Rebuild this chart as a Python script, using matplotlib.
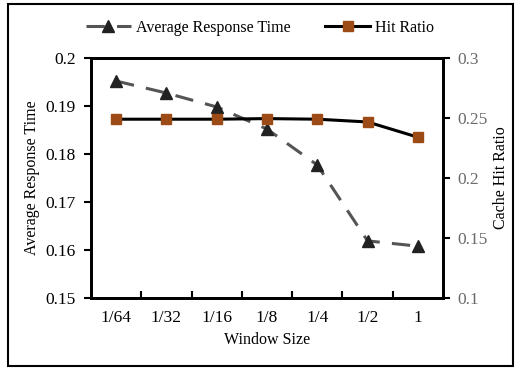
import numpy as np
import matplotlib.pyplot as plt
from matplotlib.patches import Rectangle

plt.rcParams['font.family'] = ['Liberation Serif', 'DejaVu Serif']

window = ['1/64', '1/32', '1/16', '1/8', '1/4', '1/2', '1']
resp_time = [0.1952, 0.1927, 0.1898, 0.1852, 0.1777, 0.1619, 0.1608]
hit_ratio = [0.249, 0.249, 0.249, 0.2495, 0.249, 0.2467, 0.234]

fig = plt.figure(figsize=(5.2, 3.69), dpi=100)
ax1 = fig.add_axes([91/520, 1 - 298/369, 352/520, 240/369])
ax2 = ax1.twinx()

x = np.arange(len(window))
l1, = ax1.plot(x, resp_time, color='#555555', lw=2.2, dashes=(6, 4),
               marker='^', ms=8, mfc='#222222', mec='#222222',
               label='Average Response Time')
l2, = ax2.plot(x, hit_ratio, color='black', lw=2.2,
               marker='s', ms=7, mfc='#9C4A16', mec='#9C4A16',
               label='Hit Ratio')

ax1.set_xlim(-0.5, len(window) - 0.5)
ax1.set_ylim(0.15, 0.2)
ax1.set_yticks([0.15, 0.16, 0.17, 0.18, 0.19, 0.2])
ax1.set_yticklabels(['0.15', '0.16', '0.17', '0.18', '0.19', '0.2'])
ax2.set_ylim(0.1, 0.3)
ax2.set_yticks([0.1, 0.15, 0.2, 0.25, 0.3])
ax2.set_yticklabels(['0.1', '0.15', '0.2', '0.25', '0.3'], color='#6b6b6b')

ax1.set_xticks(x)
ax1.set_xticklabels(window)
ax1.tick_params(axis='x', length=0, labelsize=12.5, pad=9)
ax1.set_xticks(np.arange(0.5, len(window) - 1), minor=True)
ax1.tick_params(axis='x', which='minor', direction='in', length=5, width=1.5)
ax1.tick_params(axis='y', direction='out', length=5, width=1.5, labelsize=12.5,
                pad=6)
ax2.tick_params(axis='y', direction='out', length=5, width=1.5, labelsize=12.5,
                pad=5)

for ax in (ax1, ax2):
    for s in ax.spines.values():
        s.set_linewidth(2)

ax1.set_xlabel('Window Size', fontsize=11.5, labelpad=4)
ax1.set_ylabel('Average Response Time', fontsize=11.5, labelpad=4)
ax2.set_ylabel('Cache Hit Ratio', fontsize=11.5, labelpad=4)

fig.legend(handles=[l1, l2], loc='center', bbox_to_anchor=(0.5, 1 - 28/369),
           ncol=2, frameon=False, fontsize=11.5, handlelength=2.8,
           columnspacing=2.2, handletextpad=0.3)

fig.patches.append(Rectangle((8/520, 3/369), 505/520, 362/369,
                             transform=fig.transFigure, fill=False,
                             lw=1.5, ec='black'))

fig.savefig('out.png', dpi=100)
